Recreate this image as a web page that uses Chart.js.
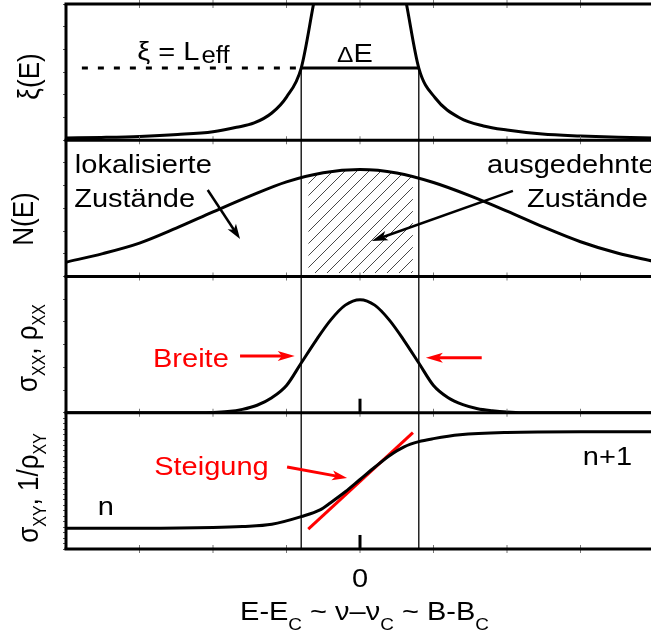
<!DOCTYPE html>
<html>
<head>
<meta charset="utf-8">
<script src="https://cdn.jsdelivr.net/npm/chart.js@4.4.1/dist/chart.umd.min.js"></script>
<style>
  html, body { margin: 0; padding: 0; overflow: hidden; background: #fff; }
  canvas { display: block; }
</style>
</head>
<body>
<canvas id="grafico" width="656" height="637"></canvas>
<script>
// datos (x en unidades de E-Ec, y en 0..10 por panel)
const xiX = [-5, -4.4, -3.75, -3.1, -2.5, -2.1, -1.8, -1.5, -1.25, -1, -0.79, -0.6, 0, 0.6, 0.79, 1, 1.28, 1.7, 2.1, 2.5, 3.1, 3.75, 4.4, 5];
const xiY = [0.17, 0.21, 0.28, 0.42, 0.63, 0.95, 1.27, 2.0, 3.17, 5.3, 10, 14.3, 30, 14.3, 10, 5.3, 3.1, 1.63, 1.05, 0.75, 0.45, 0.31, 0.22, 0.17];
const leffNivel = 5.3;
const leffX = [-4.73, -1];
const deltaX = [-1, 1];

const dosX = [-5, -4.375, -3.75, -3.125, -2.5, -1.875, -1.25, -0.625, 0, 0.625, 1.25, 1.875, 2.5, 3.125, 3.75, 4.375, 5];
const dosY = [1.05, 1.68, 2.45, 3.55, 4.74, 5.9, 6.95, 7.62, 7.85, 7.6, 6.9, 5.92, 4.8, 3.62, 2.55, 1.72, 1.1];
const rayX = [-0.88, -0.625, 0, 0.625, 0.9];
const rayY = [7.38, 7.62, 7.85, 7.6, 7.35];

const sxxX = [-5, -2.75, -2.5, -2.25, -2, -1.75, -1.5, -1.25, -1, -0.75, -0.5, -0.25, 0, 0.25, 0.5, 0.75, 1, 1.25, 1.5, 1.75, 2, 2.25, 2.5, 2.75, 5];
const sxxY = [0, 0, 0.02, 0.09, 0.25, 0.55, 1.1, 2.0, 3.65, 5.3, 6.8, 7.9, 8.3, 7.9, 6.8, 5.3, 3.65, 2.0, 1.1, 0.6, 0.3, 0.15, 0.05, 0, 0];

const sxyX = [-5, -3.75, -2.5, -2, -1.5, -1, -0.68, -0.5, -0.25, 0, 0.25, 0.5, 0.75, 1, 1.25, 1.7, 2.5, 3.75, 5];
const sxyY = [1.52, 1.52, 1.57, 1.65, 1.82, 2.38, 2.87, 3.4, 4.2, 5.1, 6.0, 6.85, 7.5, 7.88, 8.1, 8.38, 8.55, 8.6, 8.6];
const tangX = [-0.88, 0.9];
const tangY = [1.46, 8.54];

const marcasX = [-3.75, -2.5, -1.25, 0, 1.25, 2.5, 3.75];

const FUENTE = '"Liberation Sans", Arial, sans-serif';
const SX = 1.115; // la figura original esta estirada en horizontal

function puntos(xs, ys) {
  return xs.map((x, i) => ({ x: x, y: ys[i] }));
}

function trama() {
  const c = document.createElement('canvas');
  c.width = 12; c.height = 12;
  const g = c.getContext('2d');
  g.strokeStyle = '#333';
  g.lineWidth = 0.9;
  g.beginPath();
  g.moveTo(-1, 13); g.lineTo(13, -1);
  g.moveTo(-1, 1); g.lineTo(1, -1);
  g.moveTo(11, 13); g.lineTo(13, 11);
  g.stroke();
  return g.createPattern(c, 'repeat');
}

function texto(ctx, partes, x, y, opts = {}) {
  ctx.save();
  ctx.translate(x, y);
  ctx.scale(SX, 1);
  if (opts.rot) ctx.rotate(-Math.PI / 2);
  let total = 0;
  partes.forEach(p => {
    ctx.font = p[1] + 'px ' + FUENTE;
    p.w = ctx.measureText(p[0]).width + (p[3] || 0);
    total += p.w;
  });
  let cx = opts.centro ? -total / 2 : 0;
  ctx.fillStyle = opts.color || '#000';
  ctx.textBaseline = 'alphabetic';
  partes.forEach(p => {
    ctx.font = p[1] + 'px ' + FUENTE;
    ctx.fillText(p[0], cx + (p[3] || 0), p[2] || 0);
    cx += p.w;
  });
  ctx.restore();
}

function flecha(ctx, a, b, color, ancho, largo, medio) {
  const ang = Math.atan2(b[1] - a[1], b[0] - a[0]);
  const c = Math.cos(ang), s = Math.sin(ang);
  ctx.save();
  ctx.strokeStyle = color;
  ctx.fillStyle = color;
  ctx.lineWidth = ancho;
  ctx.lineCap = 'butt';
  ctx.beginPath();
  ctx.moveTo(a[0], a[1]);
  ctx.lineTo(b[0] - largo * 0.7 * c, b[1] - largo * 0.7 * s);
  ctx.stroke();
  ctx.beginPath();
  ctx.moveTo(b[0], b[1]);
  ctx.lineTo(b[0] - largo * c + medio * s, b[1] - largo * s - medio * c);
  ctx.lineTo(b[0] - largo * 0.75 * c, b[1] - largo * 0.75 * s);
  ctx.lineTo(b[0] - largo * c - medio * s, b[1] - largo * s + medio * c);
  ctx.closePath();
  ctx.fill();
  ctx.restore();
}

// anotaciones en coordenadas de datos de cada panel
// partes: [texto, tamaño, desplazamiento vertical, separacion previa]
const notas = [
  { eje: 'y1', x: -3.79, y: 5.89, partes: [['ξ = L', 26], ['eff', 23, 3, 2]] },
  { eje: 'y1', x: -0.39, y: 5.75, partes: [['Δ', 22], ['E', 26]] },
  { eje: 'y2', x: -4.85, y: 7.6, partes: [['lokalisierte', 26]] },
  { eje: 'y2', x: -4.86, y: 5.1, partes: [['Zustände', 26]] },
  { eje: 'y2', x: 2.16, y: 7.63, partes: [['ausgedehnte', 26]] },
  { eje: 'y2', x: 2.84, y: 5.1, partes: [['Zustände', 26]] },
  { eje: 'y3', x: -3.52, y: 3.38, partes: [['Breite', 26]], color: '#ff0000' },
  { eje: 'y4', x: -3.5, y: 5.43, partes: [['Steigung', 26]], color: '#ff0000' },
  { eje: 'y4', x: -4.46, y: 2.5, partes: [['n', 26]] },
  { eje: 'y4', x: 3.79, y: 6.17, partes: [['n+1', 26]] }
];

const flechas = [
  { eje: 'y2', de: [-2.59, 6.35], a: [-2.04, 2.75], color: '#000', ancho: 2.5, largo: 15, medio: 5 },
  { eje: 'y2', de: [2.6, 6.28], a: [0.2, 2.61], color: '#000', ancho: 2.5, largo: 16, medio: 5 },
  { eje: 'y3', de: [-2.04, 4.17], a: [-1.11, 4.17], color: '#ff0000', ancho: 3, largo: 17, medio: 5 },
  { eje: 'y3', de: [2.07, 4.04], a: [1.12, 4.04], color: '#ff0000', ancho: 3, largo: 17, medio: 5 },
  { eje: 'y4', de: [-1.24, 6.02], a: [-0.22, 5.21], color: '#ff0000', ancho: 3, largo: 15, medio: 5 }
];

const titulosY = [
  { eje: 'y1', bx: 39, y: 4.68, partes: [['ξ(E)', 26]] },
  { eje: 'y2', bx: 33, y: 4.22, partes: [['N(E)', 26]] },
  { eje: 'y3', bx: 37, y: 4.75, partes: [['σ', 26], ['XX', 16, 7], [', ρ', 26], ['XX', 16, 7]] },
  { eje: 'y4', bx: 38, y: 4.48, partes: [['σ', 26], ['XY', 16, 7], [', 1/ρ', 26], ['XY', 16, 7]] }
];

const panelesPlugin = {
  id: 'paneles',
  afterDatasetsDraw(chart) {
    const ctx = chart.ctx;
    const ca = chart.chartArea;
    const sx = chart.scales.x;
    const ejes = ['y1', 'y2', 'y3', 'y4'].map(k => chart.scales[k]);
    const px = (eje, x, y) => [sx.getPixelForValue(x), chart.scales[eje].getPixelForValue(y)];

    ctx.save();
    // lineas verticales del ancho de banda
    ctx.strokeStyle = '#000';
    ctx.lineWidth = 1.3;
    deltaX.forEach(v => {
      const x = sx.getPixelForValue(v);
      ctx.beginPath();
      ctx.moveTo(x, chart.scales.y1.getPixelForValue(leffNivel));
      ctx.lineTo(x, ca.bottom);
      ctx.stroke();
    });

    // marcas pequeñas del eje x en cada borde
    ctx.strokeStyle = '#777';
    ctx.lineWidth = 1;
    const bordes = [ejes[0].top].concat(ejes.map(e => e.bottom));
    bordes.forEach(yb => {
      sx.ticks.forEach(t => {
        if (!marcasX.includes(t.value)) return;
        const x = sx.getPixelForValue(t.value);
        ctx.beginPath();
        ctx.moveTo(x, yb - 4);
        ctx.lineTo(x, yb + 4);
        ctx.stroke();
      });
    });

    // marco
    ctx.strokeStyle = '#000';
    ctx.lineWidth = 3;
    bordes.forEach(yb => {
      ctx.beginPath();
      ctx.moveTo(ca.left - 1.5, yb);
      ctx.lineTo(ca.right, yb);
      ctx.stroke();
    });
    ctx.beginPath();
    ctx.moveTo(ca.left, ca.top);
    ctx.lineTo(ca.left, ca.bottom);
    ctx.stroke();

    // marca del cero en paneles 3 y 4
    ['y3', 'y4'].forEach(k => {
      const a = px(k, 0, 0), b = px(k, 0, 1.03);
      ctx.beginPath();
      ctx.moveTo(a[0], a[1]);
      ctx.lineTo(b[0], b[1]);
      ctx.stroke();
    });
    ctx.restore();

    flechas.forEach(f => {
      flecha(ctx, px(f.eje, f.de[0], f.de[1]), px(f.eje, f.a[0], f.a[1]), f.color, f.ancho, f.largo, f.medio);
    });

    notas.forEach(n => {
      const p = px(n.eje, n.x, n.y);
      texto(ctx, n.partes, p[0], p[1], { color: n.color });
    });

    titulosY.forEach(t => {
      const y = chart.scales[t.eje].getPixelForValue(t.y);
      texto(ctx, t.partes, t.bx, y, { rot: true, centro: true });
    });

    // etiqueta del cero y titulo del eje x
    texto(ctx, [['0', 26]], sx.getPixelForValue(0), ca.bottom + 37.5, { centro: true });
    texto(ctx, [['E-E', 26], ['C', 17, 10], [' ~ ν–ν', 26], ['C', 17, 10], [' ~ B-B', 26], ['C', 17, 10]],
      sx.getPixelForValue(-2.04), ca.bottom + 71);
  }
};

const linea = { borderColor: '#000', borderWidth: 3, pointRadius: 0, fill: false };

const ejeY = (peso, paso) => ({
  type: 'linear',
  position: 'left',
  stack: 'paneles',
  stackWeight: 1,
  weight: peso,
  min: 0,
  max: 10,
  ticks: { display: false, stepSize: paso },
  grid: { drawOnChartArea: false, drawTicks: true, tickLength: 3, color: '#555', lineWidth: 1 },
  border: { display: false },
  afterFit: s => { s.width = 66; }
});

new Chart(document.getElementById('grafico'), {
  type: 'line',
  data: {
    datasets: [
      Object.assign({ yAxisID: 'y1', data: puntos(xiX, xiY), cubicInterpolationMode: 'monotone' }, linea),
      Object.assign({ yAxisID: 'y1', data: puntos(leffX, [leffNivel, leffNivel]), borderDash: [6, 10] }, linea),
      Object.assign({ yAxisID: 'y1', data: puntos(deltaX, [leffNivel, leffNivel]) }, linea),
      Object.assign({ yAxisID: 'y2', data: puntos(dosX, dosY), cubicInterpolationMode: 'monotone' }, linea),
      {
        yAxisID: 'y2', data: puntos(rayX, rayY), cubicInterpolationMode: 'monotone',
        borderWidth: 0, pointRadius: 0, fill: { value: 0.25 }, backgroundColor: trama()
      },
      Object.assign({ yAxisID: 'y3', data: puntos(sxxX, sxxY), cubicInterpolationMode: 'monotone' }, linea),
      Object.assign({ yAxisID: 'y4', data: puntos(sxyX, sxyY), cubicInterpolationMode: 'monotone' }, linea),
      Object.assign({ yAxisID: 'y4', data: puntos(tangX, tangY) }, linea, { borderColor: '#ff0000' })
    ]
  },
  options: {
    responsive: false,
    animation: false,
    devicePixelRatio: 1,
    layout: { padding: { top: 4, right: 2, left: 0, bottom: 0 } },
    plugins: { legend: { display: false }, tooltip: { enabled: false } },
    scales: {
      x: {
        type: 'linear',
        position: 'bottom',
        min: -5,
        max: 5,
        ticks: { display: false, stepSize: 1.25 },
        grid: { display: false },
        border: { display: false },
        afterFit: s => { s.height = 88; }
      },
      y1: ejeY(4, 10 / 6),
      y2: ejeY(3, 10 / 6),
      y3: ejeY(2, 10 / 6),
      y4: ejeY(1, 0.4)
    }
  },
  plugins: [panelesPlugin]
});
</script>
</body>
</html>
